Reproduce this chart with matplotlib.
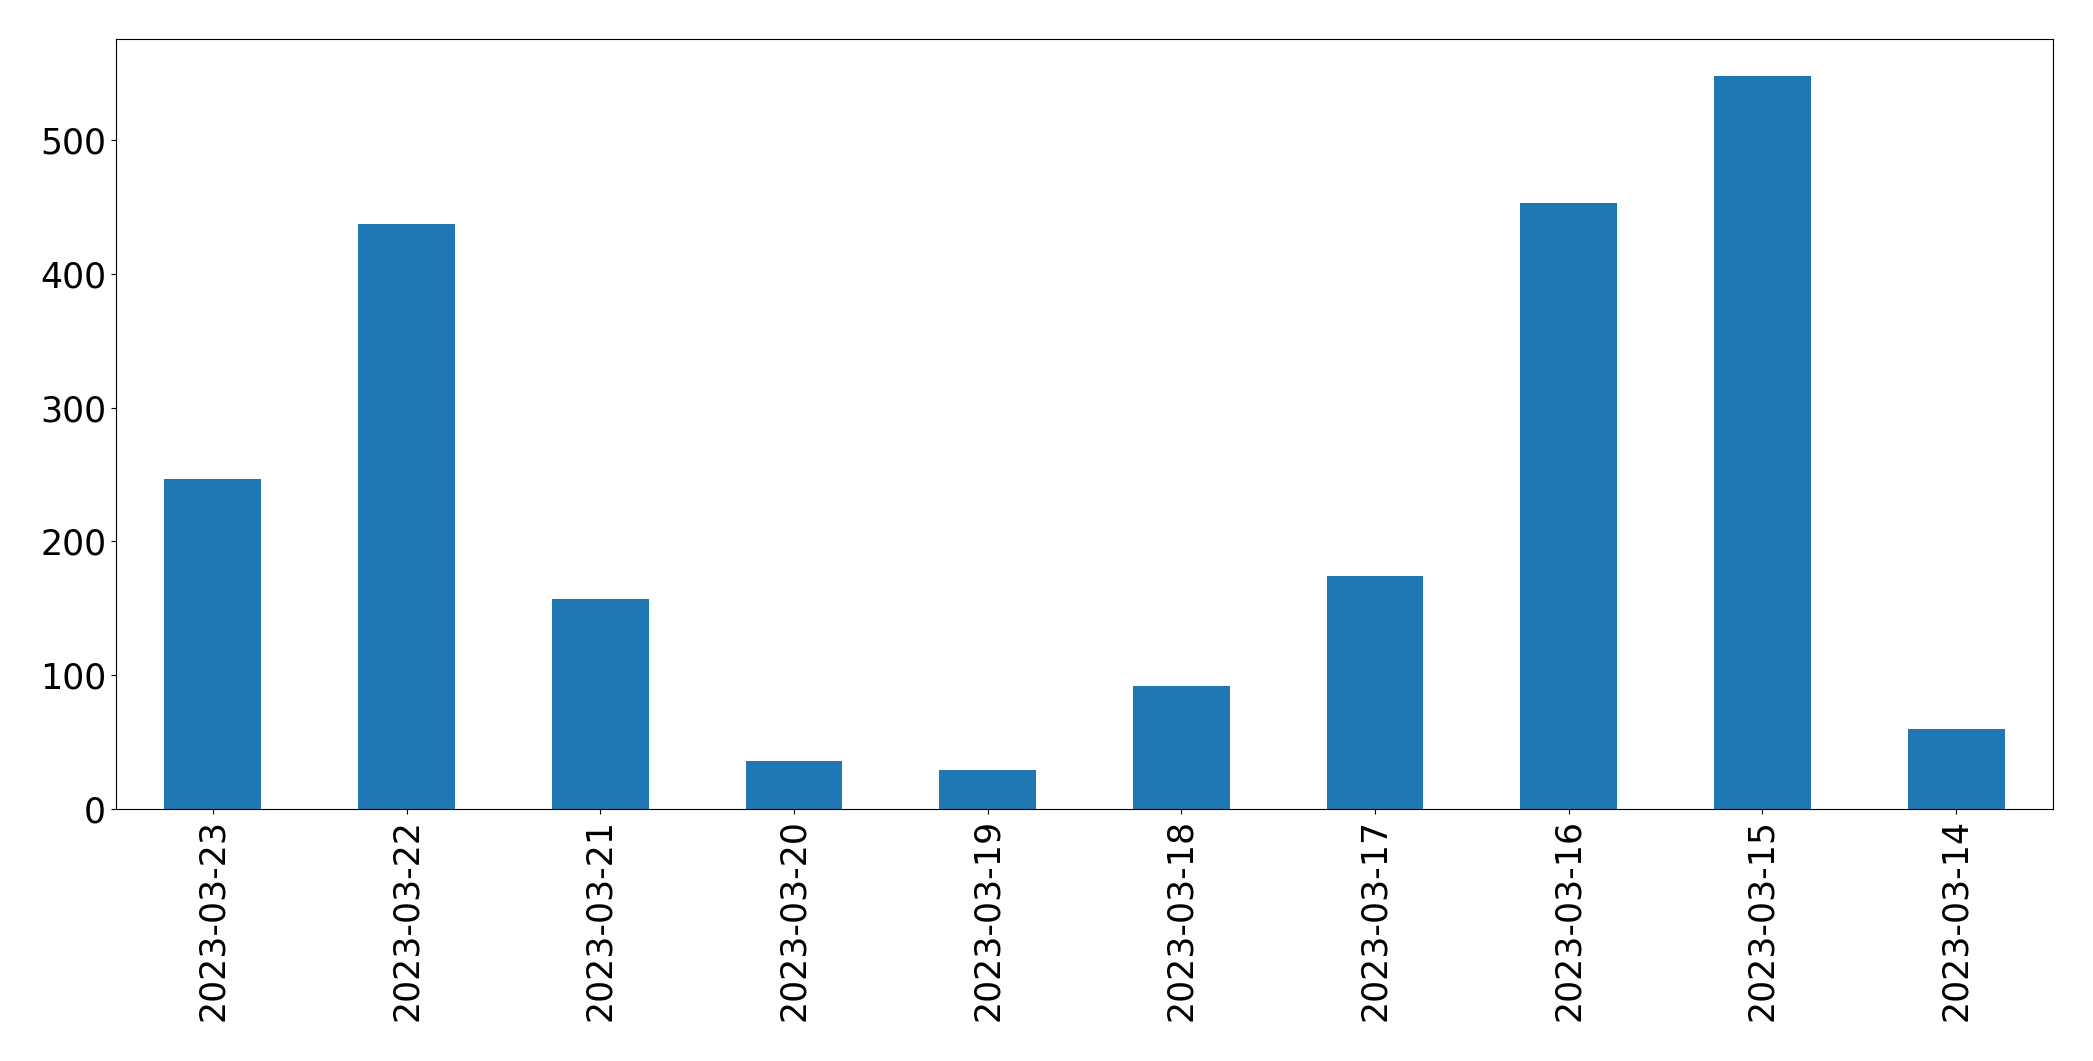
import matplotlib
matplotlib.use("Agg")
import matplotlib.pyplot as plt

dates = ["2023-03-23", "2023-03-22", "2023-03-21", "2023-03-20", "2023-03-19",
         "2023-03-18", "2023-03-17", "2023-03-16", "2023-03-15", "2023-03-14"]
counts = [247, 437, 157, 36, 29, 92, 174, 453, 548, 60]

fig = plt.figure(figsize=(20.93, 10.61), dpi=100)
ax = fig.add_axes([0.0554, 0.2375, 0.9255, 0.7255])

positions = range(len(dates))
ax.bar(positions, counts, width=0.5, color="#1f77b4")
ax.set_xlim(-0.5, len(dates) - 0.5)
ax.set_xticks(list(positions))
ax.set_xticklabels(dates, rotation=90, fontsize=25)
ax.tick_params(axis="y", labelsize=25)

fig.savefig("out.png", dpi=100)
